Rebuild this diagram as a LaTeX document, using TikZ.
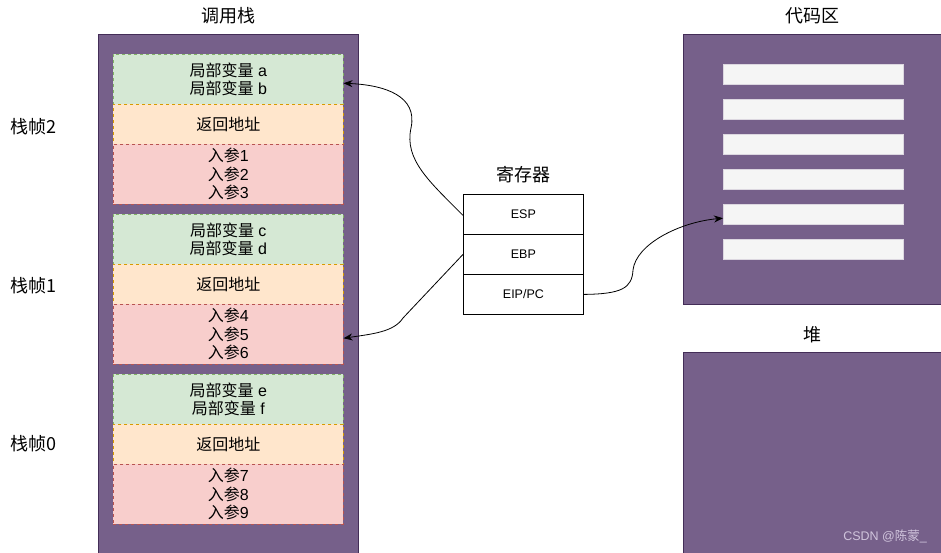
\documentclass[tikz,border=0pt]{standalone}
\usepackage{fontspec}
\setmainfont{Liberation Sans}
\newfontfamily\cjk{Noto Sans CJK SC}
\usetikzlibrary{arrows.meta}
\definecolor{purp}{HTML}{76608A}
\definecolor{purpline}{HTML}{432D57}
\definecolor{gfill}{HTML}{D5E8D4}
\definecolor{gline}{HTML}{82B366}
\definecolor{ofill}{HTML}{FFE6CC}
\definecolor{oline}{HTML}{D79B00}
\definecolor{rfill}{HTML}{F8CECC}
\definecolor{rline}{HTML}{B85450}
\definecolor{barfill}{HTML}{F5F5F5}
\definecolor{wmark}{HTML}{D0C4DC}
\tikzset{
  region/.style={fill=purp, draw=purpline, line width=0.8pt},
  cell/.style={minimum width=230pt, inner sep=0pt, dashed, line width=0.5pt,
     align=center, font=\fontsize{16}{18.5}\selectfont},
  varcell/.style={cell, fill=gfill, draw=gline, minimum height=50pt},
  retcell/.style={cell, fill=ofill, draw=oline, minimum height=40pt},
  argcell/.style={cell, fill=rfill, draw=rline, minimum height=60pt},
  title/.style={font=\fontsize{18}{21}\selectfont\cjk},
  reg/.style={draw=black, fill=white, line width=0.8pt, minimum width=120pt, minimum height=40pt,
     inner sep=0pt, font=\fontsize{12.5}{14}\selectfont},
  codebar/.style={fill=barfill, draw=barfill!80!purp, line width=0.4pt, minimum width=180pt,
     minimum height=20pt, inner sep=0pt},
  link/.style={draw=black, line width=0.8pt, -{Stealth[length=9pt,width=7pt]}},
}
\begin{document}
\begin{tikzpicture}[x=1pt,y=-1pt]
\useasboundingbox (0,0) rectangle (941,552);
% stack region
\node[region, minimum width=260pt, minimum height=519pt, inner sep=0pt, anchor=north west] (stack) at (98,34) {};
\node[title] (stacktitle) at (228,16) {调用栈};
% frame 2
\node[varcell, anchor=north west] (v2) at (113,54) {{\cjk 局部变量} a\\{\cjk 局部变量} b};
\node[retcell, anchor=north west] (r2) at (113,104) {\cjk 返回地址};
\node[argcell, anchor=north west] (a2) at (113,144) {{\cjk 入参}1\\{\cjk 入参}2\\{\cjk 入参}3};
% frame 1
\node[varcell, anchor=north west] (v1) at (113,214) {{\cjk 局部变量} c\\{\cjk 局部变量} d};
\node[retcell, anchor=north west] (r1) at (113,264) {\cjk 返回地址};
\node[argcell, anchor=north west] (a1) at (113,304) {{\cjk 入参}4\\{\cjk 入参}5\\{\cjk 入参}6};
% frame 0
\node[varcell, anchor=north west] (v0) at (113,374) {{\cjk 局部变量} e\\{\cjk 局部变量} f};
\node[retcell, anchor=north west] (r0) at (113,424) {\cjk 返回地址};
\node[argcell, anchor=north west] (a0) at (113,464) {{\cjk 入参}7\\{\cjk 入参}8\\{\cjk 入参}9};
% frame labels
\node[title] (lab2) at (33,127) {栈帧2};
\node[title] (lab1) at (33,286) {栈帧1};
\node[title] (lab0) at (33,444) {栈帧0};
% registers
\node[title] (regtitle) at (523,175) {寄存器};
\node[reg, anchor=north west] (esp) at (463,194) {ESP};
\node[reg, anchor=north west] (ebp) at (463,234) {EBP};
\node[reg, anchor=north west] (eip) at (463,274) {EIP/PC};
% code area
\node[title] (codetitle) at (812,16) {代码区};
\node[region, minimum width=260pt, minimum height=270pt, inner sep=0pt, anchor=north west] (code) at (683,34) {};
\foreach \i/\y in {1/64,2/99,3/134,4/169,5/204,6/239}{
  \node[codebar, anchor=north west] (bar\i) at (723,\y) {};
}
% heap
\node[title] (heaptitle) at (812,335) {堆};
\node[region, minimum width=260pt, minimum height=201pt, inner sep=0pt, anchor=north west] (heap) at (683,352) {};
\node[font=\fontsize{12.5}{14}\selectfont, text=wmark, anchor=east, inner sep=0pt] (wm) at (927,536) {CSDN @{\cjk 陈蒙}\_};
% connectors
\coordinate (espout) at ([yshift=-1pt]esp.west);
\coordinate (v2in) at ([yshift=-4pt]v2.east);
\draw[link] (espout) .. controls (430,182) and (404,160) .. (411,128)
   .. controls (418,96) and (385,85) .. (v2in);
\coordinate (a1in) at ([yshift=-4pt]a1.east);
\draw[link] (ebp.west) -- (403,318) .. controls (394,332) and (372,334) .. (a1in);
\coordinate (bar5in) at ([yshift=-4pt]bar5.west);
\draw[link] (eip.east) .. controls (622,294) and (632,288) .. (633,270)
   .. controls (636,244) and (680,222) .. (bar5in);
\end{tikzpicture}
\end{document}
